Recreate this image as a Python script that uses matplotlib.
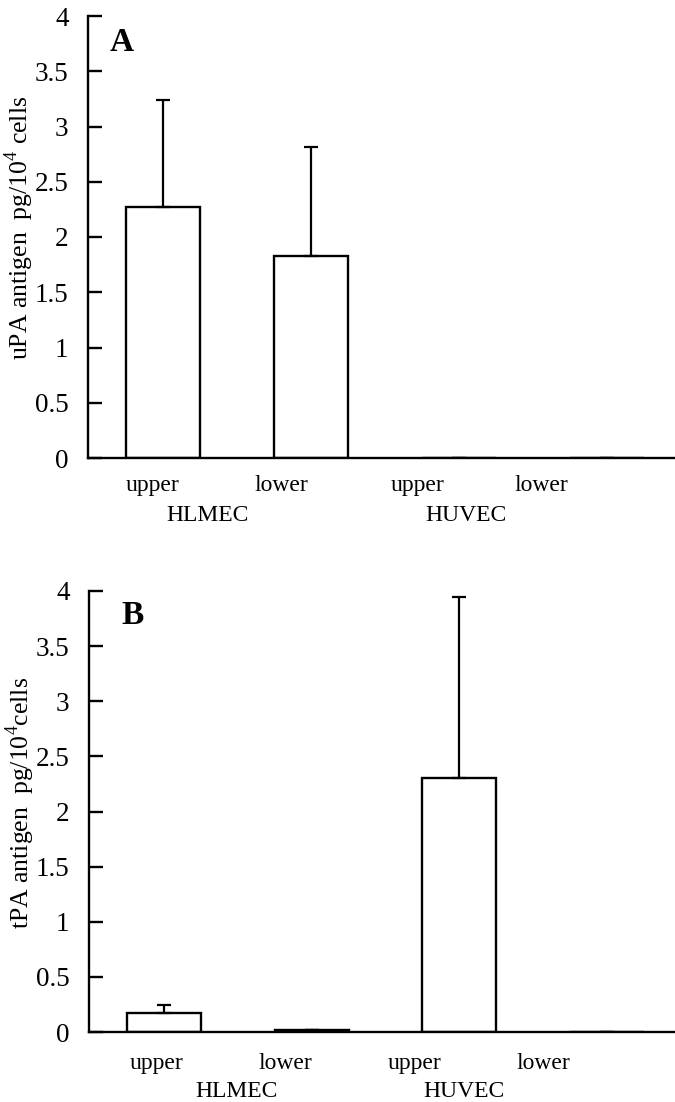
import numpy as np
from matplotlib import pyplot as plt
import matplotlib.transforms as mtransforms

plt.rcParams['font.family'] = ['Liberation Serif', 'DejaVu Serif']
plt.rcParams['mathtext.fontset'] = 'custom'
plt.rcParams['mathtext.rm'] = 'Liberation Serif'

# data
cells = ["HLMEC", "HLMEC", "HUVEC", "HUVEC"]
sides = ["upper", "lower", "upper", "lower"]
upa_mean = [2.27, 1.83, 0.0, 0.0]
upa_err = [0.97, 0.98, 0.0, 0.0]
tpa_mean = [0.17, 0.02, 2.30, 0.0]
tpa_err = [0.075, 0.0, 1.645, 0.0]
yticks = [0, 0.5, 1, 1.5, 2, 2.5, 3, 3.5, 4]
ytick_labels = ["0", "0.5", "1", "1.5", "2", "2.5", "3", "3.5", "4"]

# where the text labels sit (x in bar units, y in axes fraction)
side_x_a = [-0.07, 0.80, 1.72, 2.56]
group_x_a = [0.30, 2.05]
side_x_b = [-0.05, 0.82, 1.70, 2.57]
group_x_b = [0.49, 2.03]

fig = plt.figure(figsize=(6.75, 11.02), dpi=100)
ax1 = fig.add_axes([88/675, 1-458/1102, 587/675, 442/1102])
ax2 = fig.add_axes([89/675, 1-1032/1102, 586/675, 441/1102])


def draw(ax, mean, err, ylab, ylab_y, letter, letter_xy, side_x, group_x, y1, y2):
    x = np.arange(len(mean))
    ax.bar(x, mean, width=0.5, color="white", edgecolor="black", linewidth=1.7, zorder=2)
    ax.errorbar(x, mean, yerr=[np.zeros(len(err)), err], fmt="none", ecolor="black",
                elinewidth=1.6, capsize=5, capthick=1.6, zorder=3)
    ax.set_xlim(-0.507, 3.46)
    ax.set_ylim(0, 4)
    ax.spines["top"].set_visible(False)
    ax.spines["right"].set_visible(False)
    ax.spines["left"].set_linewidth(1.7)
    ax.spines["bottom"].set_linewidth(1.7)
    ax.set_xticks([])
    ax.set_yticks(yticks)
    ax.set_yticklabels(ytick_labels, fontsize=19.5)
    ax.tick_params(axis="y", direction="in", length=10, width=1.7, pad=14)
    ax.set_ylabel(ylab, fontsize=18.5)
    ax.yaxis.set_label_coords(-0.088, ylab_y)
    ax.text(letter_xy[0], letter_xy[1], letter, transform=ax.transAxes, fontsize=24,
            fontweight="bold", ha="left", va="center")
    tr = mtransforms.blended_transform_factory(ax.transData, ax.transAxes)
    for xs, s in zip(side_x, sides):
        ax.text(xs, y1, s, transform=tr, ha="center", va="center", fontsize=17)
    for xs, g in zip(group_x, ["HLMEC", "HUVEC"]):
        ax.text(xs, y2, g, transform=tr, ha="center", va="center", fontsize=17)


draw(ax1, upa_mean, upa_err, r"uPA antigen  pg/10$^4$ cells", 0.52, "A", (0.036, 0.94),
     side_x_a, group_x_a, -0.063, -0.13)
draw(ax2, tpa_mean, tpa_err, r"tPA antigen  pg/10$^4$cells", 0.52, "B", (0.055, 0.945),
     side_x_b, group_x_b, -0.072, -0.136)

plt.savefig("out.png", dpi=100)
